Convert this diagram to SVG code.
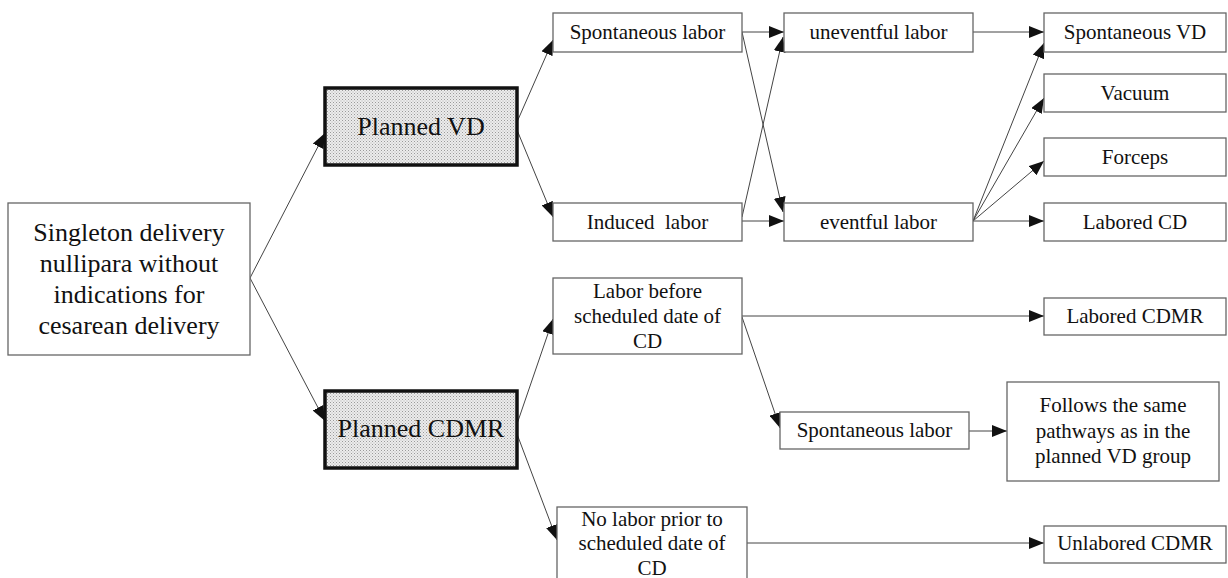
<svg xmlns="http://www.w3.org/2000/svg" width="1228" height="578" viewBox="0 0 1228 578">
<defs>
<marker id="ah" markerUnits="userSpaceOnUse" markerWidth="15" markerHeight="12" refX="15" refY="6" orient="auto">
<path d="M0,0 L15,6 L0,12 z" fill="#111"/>
</marker>
<pattern id="dots" width="3" height="3" patternUnits="userSpaceOnUse">
<rect width="3" height="3" fill="#ececec"/>
<rect x="0" y="0" width="1" height="1" fill="#9a9a9a"/>
<rect x="1.5" y="1.5" width="1" height="1" fill="#b0b0b0"/>
</pattern>
</defs>
<style>
.box{fill:#fff;stroke:#666;stroke-width:1.3}
.bold{fill:url(#dots);stroke:#111;stroke-width:3.5}
text{font-family:'Liberation Serif','Times New Roman',serif;fill:#111;text-anchor:middle}
.t21{font-size:21px}
.t26{font-size:26px}
.conn line{stroke:#444;stroke-width:1;marker-end:url(#ah)}
</style>
<rect width="1228" height="578" fill="#fff"/>

<g class="conn" id="connectors">
<line x1="250" y1="278" x2="325" y2="133"/>
<line x1="250" y1="278" x2="325" y2="421"/>
<line x1="517" y1="122" x2="553" y2="40"/>
<line x1="517" y1="130" x2="553" y2="217"/>
<line x1="742" y1="32" x2="784" y2="32"/>
<line x1="742" y1="32" x2="783" y2="212"/>
<line x1="742" y1="217" x2="783" y2="37"/>
<line x1="742" y1="221" x2="784" y2="221"/>
<line x1="973" y1="32" x2="1044" y2="32"/>
<line x1="973" y1="221" x2="1044" y2="43"/>
<line x1="973" y1="221" x2="1044" y2="98"/>
<line x1="973" y1="221" x2="1044" y2="161"/>
<line x1="973" y1="221" x2="1044" y2="221"/>
<line x1="517" y1="424" x2="553" y2="319"/>
<line x1="517" y1="434" x2="557" y2="540"/>
<line x1="742" y1="316" x2="1044" y2="316"/>
<line x1="742" y1="317" x2="780" y2="428"/>
<line x1="969" y1="431" x2="1007" y2="431"/>
<line x1="747" y1="543" x2="1044" y2="543"/>
</g>

<g id="n-main">
<rect class="box" x="8" y="203" width="242" height="152"/>
<text class="t26" x="129" y="241">Singleton delivery</text>
<text class="t26" x="129" y="272">nullipara without</text>
<text class="t26" x="129" y="303">indications for</text>
<text class="t26" x="129" y="334">cesarean delivery</text>
</g>

<g id="n-planned-vd">
<rect class="bold" x="325" y="88" width="192" height="77"/>
<text class="t26" x="421" y="135">Planned VD</text>
</g>

<g id="n-planned-cdmr">
<rect class="bold" x="325" y="391" width="192" height="77"/>
<text class="t26" x="421" y="437">Planned CDMR</text>
</g>

<g id="n-spont-labor">
<rect class="box" x="553" y="13" width="189" height="39"/>
<text class="t21" x="647.5" y="39">Spontaneous labor</text>
</g>

<g id="n-induced-labor">
<rect class="box" x="553" y="203" width="189" height="38"/>
<text class="t21" x="647.5" y="229" xml:space="preserve">Induced  labor</text>
</g>

<g id="n-uneventful">
<rect class="box" x="784" y="13" width="189" height="39"/>
<text class="t21" x="878.5" y="39">uneventful labor</text>
</g>

<g id="n-eventful">
<rect class="box" x="784" y="203" width="189" height="38"/>
<text class="t21" x="878.5" y="229">eventful labor</text>
</g>

<g id="n-spont-vd">
<rect class="box" x="1044" y="13" width="182" height="39"/>
<text class="t21" x="1135" y="39">Spontaneous VD</text>
</g>

<g id="n-vacuum">
<rect class="box" x="1044" y="74" width="182" height="38"/>
<text class="t21" x="1135" y="100">Vacuum</text>
</g>

<g id="n-forceps">
<rect class="box" x="1044" y="138" width="182" height="38"/>
<text class="t21" x="1135" y="164">Forceps</text>
</g>

<g id="n-labored-cd">
<rect class="box" x="1044" y="203" width="182" height="38"/>
<text class="t21" x="1135" y="229">Labored CD</text>
</g>

<g id="n-labor-before">
<rect class="box" x="553" y="278" width="189" height="76"/>
<text class="t21" x="647.5" y="298">Labor before</text>
<text class="t21" x="647.5" y="323">scheduled date of</text>
<text class="t21" x="647.5" y="348">CD</text>
</g>

<g id="n-no-labor">
<rect class="box" x="557" y="507" width="190" height="80"/>
<text class="t21" x="652" y="526">No labor prior to</text>
<text class="t21" x="652" y="550">scheduled date of</text>
<text class="t21" x="652" y="575">CD</text>
</g>

<g id="n-spont-labor-2">
<rect class="box" x="780" y="412" width="189" height="37"/>
<text class="t21" x="874.5" y="437">Spontaneous labor</text>
</g>

<g id="n-follows">
<rect class="box" x="1007" y="382" width="212" height="99"/>
<text class="t21" x="1113" y="412">Follows the same</text>
<text class="t21" x="1113" y="438">pathways as in the</text>
<text class="t21" x="1113" y="463">planned VD group</text>
</g>

<g id="n-labored-cdmr">
<rect class="box" x="1044" y="298" width="182" height="37"/>
<text class="t21" x="1135" y="323">Labored CDMR</text>
</g>

<g id="n-unlabored-cdmr">
<rect class="box" x="1044" y="526" width="182" height="37"/>
<text class="t21" x="1135" y="550">Unlabored CDMR</text>
</g>
</svg>
